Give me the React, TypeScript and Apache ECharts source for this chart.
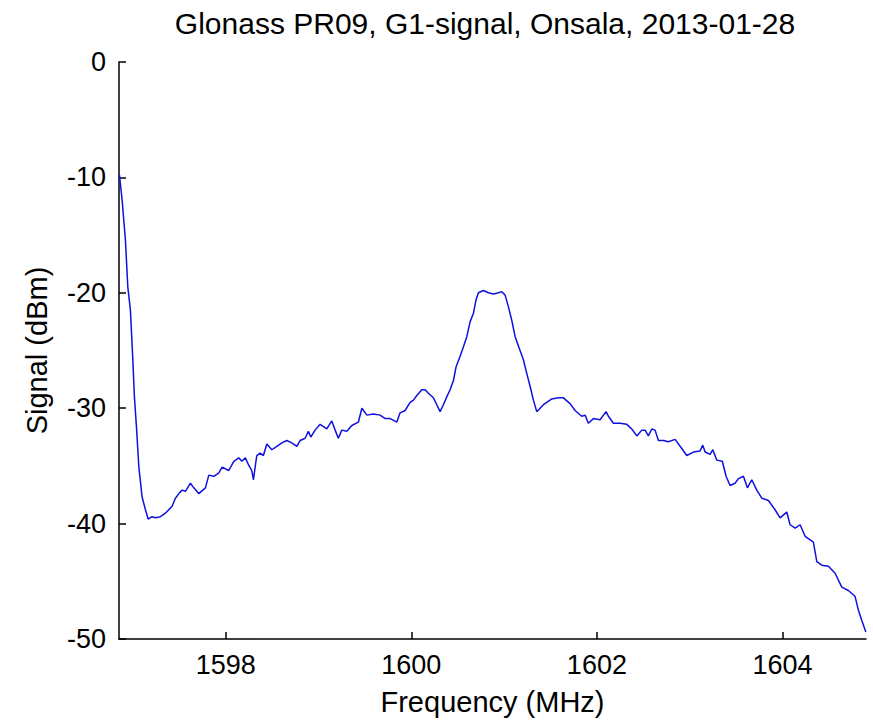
import React, { useEffect, useRef } from "react";
import * as echarts from "echarts";

const TITLE = "Glonass PR09, G1-signal, Onsala, 2013-01-28";
const X_NAME = "Frequency (MHz)";
const Y_NAME = "Signal (dBm)";
const X_TICKS = [1598, 1600, 1602, 1604];

const freqMHz = [
  1596.855, 1596.884, 1596.919, 1596.945, 1596.973, 1596.999, 1597.016, 1597.038, 1597.064, 1597.099,
  1597.135, 1597.164, 1597.207, 1597.242, 1597.296, 1597.350, 1597.422, 1597.458, 1597.495, 1597.530,
  1597.566, 1597.620, 1597.656, 1597.710, 1597.781, 1597.818, 1597.872, 1597.926, 1597.961, 1598.033,
  1598.087, 1598.141, 1598.174, 1598.212, 1598.245, 1598.281, 1598.299, 1598.317, 1598.335, 1598.371,
  1598.406, 1598.443, 1598.497, 1598.551, 1598.605, 1598.658, 1598.712, 1598.766, 1598.802, 1598.856,
  1598.891, 1598.917, 1598.963, 1599.017, 1599.089, 1599.143, 1599.179, 1599.214, 1599.251, 1599.305,
  1599.359, 1599.430, 1599.467, 1599.521, 1599.592, 1599.664, 1599.718, 1599.772, 1599.844, 1599.879,
  1599.933, 1599.987, 1600.023, 1600.059, 1600.113, 1600.149, 1600.184, 1600.238, 1600.275, 1600.310,
  1600.346, 1600.383, 1600.418, 1600.454, 1600.483, 1600.526, 1600.561, 1600.598, 1600.634, 1600.669,
  1600.698, 1600.723, 1600.777, 1600.831, 1600.885, 1600.939, 1600.975, 1601.011, 1601.046, 1601.083,
  1601.119, 1601.172, 1601.208, 1601.245, 1601.280, 1601.316, 1601.352, 1601.424, 1601.514, 1601.585,
  1601.639, 1601.711, 1601.765, 1601.837, 1601.873, 1601.908, 1601.962, 1602.034, 1602.099, 1602.124,
  1602.178, 1602.250, 1602.322, 1602.376, 1602.430, 1602.484, 1602.519, 1602.555, 1602.592, 1602.627,
  1602.663, 1602.717, 1602.770, 1602.843, 1602.897, 1602.969, 1603.040, 1603.112, 1603.141, 1603.166,
  1603.220, 1603.249, 1603.292, 1603.352, 1603.392, 1603.435, 1603.489, 1603.525, 1603.579, 1603.622,
  1603.669, 1603.723, 1603.777, 1603.848, 1603.920, 1603.974, 1604.046, 1604.082, 1604.136, 1604.190,
  1604.244, 1604.333, 1604.370, 1604.424, 1604.495, 1604.567, 1604.639, 1604.710, 1604.782, 1604.818,
  1604.855, 1604.898,
];

const signalDbm = [
  -9.8, -12.0, -15.4, -19.5, -21.5, -25.8, -29.0, -31.6, -35.1, -37.7,
  -38.8, -39.6, -39.4, -39.5, -39.4, -39.1, -38.5, -37.8, -37.4, -37.1,
  -37.2, -36.5, -36.9, -37.4, -36.9, -35.8, -35.9, -35.6, -35.1, -35.4,
  -34.6, -34.3, -34.6, -34.3, -34.9, -35.4, -36.2, -35.1, -34.1, -33.9,
  -34.1, -33.1, -33.6, -33.3, -33.0, -32.8, -33.0, -33.3, -32.8, -32.6,
  -32.0, -32.5, -31.9, -31.4, -31.8, -31.1, -31.9, -32.6, -31.9, -32.0,
  -31.5, -31.2, -30.0, -30.6, -30.5, -30.6, -30.9, -30.9, -31.2, -30.4,
  -30.2, -29.5, -29.3, -28.9, -28.4, -28.4, -28.7, -29.1, -29.7, -30.3,
  -29.7, -29.0, -28.4, -27.6, -26.4, -25.5, -24.7, -23.8, -22.5, -21.8,
  -20.6, -20.0, -19.8, -20.0, -20.1, -20.0, -19.9, -20.2, -21.2, -22.4,
  -23.8, -25.0, -25.8, -27.0, -28.1, -29.3, -30.3, -29.7, -29.2, -29.1,
  -29.1, -29.6, -30.2, -30.7, -30.6, -31.3, -30.9, -31.0, -30.3, -30.7,
  -31.3, -31.3, -31.4, -31.8, -32.4, -31.9, -31.9, -32.4, -31.8, -31.9,
  -32.8, -32.8, -32.9, -32.7, -33.3, -34.1, -33.8, -33.7, -33.2, -33.8,
  -34.0, -33.6, -34.5, -34.6, -35.9, -36.7, -36.5, -36.1, -35.9, -36.9,
  -36.2, -37.1, -37.8, -38.0, -38.8, -39.5, -39.0, -40.1, -40.4, -40.1,
  -41.1, -41.6, -43.3, -43.6, -43.7, -44.3, -45.5, -45.8, -46.3, -47.5,
  -48.4, -49.4,
];

const FONT = "'Liberation Sans', Arial, sans-serif";

export default function App() {
  const ref = useRef<HTMLDivElement>(null);

  useEffect(() => {
    if (!ref.current) return;
    const chart = echarts.init(ref.current, null, { renderer: "svg" });
    const n = Math.min(freqMHz.length, signalDbm.length);
    const data: [number, number][] = [];
    for (let i = 0; i < n; i++) data.push([freqMHz[i], signalDbm[i]]);

    chart.setOption({
      animation: false,
      backgroundColor: "#ffffff",
      title: {
        text: TITLE,
        left: 485,
        top: 8,
        padding: 0,
        textAlign: "center",
        textStyle: { fontFamily: FONT, fontSize: 30, fontWeight: "normal", color: "#000" },
      },
      grid: { left: 119, right: 7, top: 62, bottom: 84, containLabel: false, outerBoundsMode: "none" },
      xAxis: {
        type: "value",
        min: 1596.85,
        max: 1604.9,
        name: X_NAME,
        nameLocation: "middle",
        nameGap: 48,
        nameTextStyle: { fontFamily: FONT, fontSize: 29, color: "#000" },
        axisLine: { show: true, onZero: false, lineStyle: { color: "#000", width: 1.5 } },
        axisTick: { show: true, inside: true, length: 7, customValues: X_TICKS, lineStyle: { color: "#000", width: 1.5 } },
        axisLabel: {
          customValues: X_TICKS,
          formatter: (v: number) => String(Math.round(v)),
          fontFamily: FONT,
          fontSize: 27,
          color: "#000",
          margin: 12,
        },
        splitLine: { show: false },
      },
      yAxis: {
        type: "value",
        min: -50,
        max: 0,
        interval: 10,
        name: Y_NAME,
        nameLocation: "middle",
        nameGap: 68,
        nameTextStyle: { fontFamily: FONT, fontSize: 29, color: "#000" },
        axisLine: { show: true, onZero: false, lineStyle: { color: "#000", width: 1.5 } },
        axisTick: { show: true, inside: true, length: 7, lineStyle: { color: "#000", width: 1.5 } },
        axisLabel: { fontFamily: FONT, fontSize: 27, color: "#000", margin: 13 },
        splitLine: { show: false },
      },
      series: [
        {
          type: "line",
          data,
          showSymbol: false,
          symbol: "none",
          lineStyle: { color: "#1010e0", width: 1.5 },
        },
      ],
    });

    return () => chart.dispose();
  }, []);

  return (
    <div
      ref={ref}
      style={{ position: "fixed", left: 0, top: 0, width: 873, height: 723, background: "#fff" }}
    />
  );
}
